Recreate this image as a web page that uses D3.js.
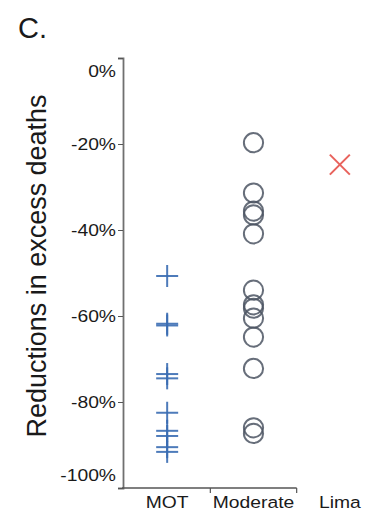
<!DOCTYPE html>
<html>
<head>
<meta charset="utf-8">
<script src="https://cdn.jsdelivr.net/npm/d3@7"></script>
<style>
  body { margin: 0; background: #fff; }
  svg text { font-family: "Liberation Sans", Arial, sans-serif; fill: #1a1a1a; }
</style>
</head>
<body>
<div class="chart"></div>
<script>
var categories = ["MOT", "Moderate", "Lima"];
var yTicks = [0, -20, -40, -60, -80, -100];
var motValues = [-50.7, -61.8, -62.2, -73.5, -74.5, -82.5, -86.7, -87.9, -90.5, -91.6];
var moderateValues = [-19.7, -31.4, -35.6, -36.5, -40.9, -54.0, -57.4, -58.2, -60.5, -64.9, -72.2, -86.0, -87.3];
var limaValues = [-24.8];

var svgWidth = 387, svgHeight = 512;

var svg = d3.select(".chart")
  .append("svg")
  .attr("width", svgWidth)
  .attr("height", svgHeight);

var xScale = d3.scaleBand().domain(categories).range([124, 383]);
var yScale = d3.scaleLinear().domain([-100, 0]).range([488, 58]);

// title
svg.append("text")
  .attr("x", 18)
  .attr("y", 38)
  .style("font-size", "29px")
  .text("C.");

// y axis
var leftAxis = d3.axisLeft(yScale)
  .tickValues(yTicks)
  .tickSize(5)
  .tickFormat(function(d) { return d + "%"; });

var yAxisG = svg.append("g")
  .attr("transform", "translate(123,0)")
  .call(leftAxis);

yAxisG.select(".domain").attr("stroke", "#707070").attr("stroke-width", 1.8);
yAxisG.selectAll(".tick line").attr("stroke", "#555");
yAxisG.selectAll(".tick text")
  .style("font-size", "16.5px")
  .attr("fill", "#1a1a1a")
  .attr("x", -7 / 1.17)
  .attr("transform", "scale(1.17,1)")
  .attr("dy", function(d) {
    if (d === 0) return "1.1em";
    if (d === -100) return "-0.45em";
    return "0.35em";
  });

// x axis (line only runs over first two bands)
svg.append("line")
  .attr("x1", 122).attr("x2", xScale("Lima"))
  .attr("y1", 488).attr("y2", 488)
  .attr("stroke", "#555").attr("stroke-width", 1.6);

svg.selectAll(".xtick")
  .data(["Moderate", "Lima"])
  .enter()
  .append("line")
  .attr("class", "xtick")
  .attr("x1", function(d) { return xScale(d); })
  .attr("x2", function(d) { return xScale(d); })
  .attr("y1", 488).attr("y2", 493)
  .attr("stroke", "#555").attr("stroke-width", 1.2);

svg.selectAll(".xlabel")
  .data(categories)
  .enter()
  .append("text")
  .attr("class", "xlabel")
  .attr("text-anchor", "middle")
  .attr("transform", function(d) {
    return "translate(" + (xScale(d) + xScale.bandwidth() / 2) + ",508) scale(1.17,1)";
  })
  .style("font-size", "16.5px")
  .text(function(d) { return d; });

// y label
svg.append("text")
  .attr("transform", "translate(46,266) rotate(-90)")
  .attr("text-anchor", "middle")
  .attr("textLength", 343)
  .attr("lengthAdjust", "spacingAndGlyphs")
  .style("font-size", "27px")
  .text("Reductions in excess deaths");

// MOT: plus markers
var plus = svg.append("g").attr("class", "mot");
var mx = xScale("MOT") + xScale.bandwidth() / 2;
motValues.forEach(function(v) {
  var cy = yScale(v);
  plus.append("line")
    .attr("x1", mx - 11).attr("x2", mx + 11)
    .attr("y1", cy).attr("y2", cy);
  plus.append("line")
    .attr("x1", mx).attr("x2", mx)
    .attr("y1", cy - 11).attr("y2", cy + 11);
});
plus.selectAll("line")
  .attr("stroke", "#3a6db3")
  .attr("stroke-width", 2)
  .attr("opacity", 0.9);

// Moderate: open circles
svg.append("g")
  .selectAll("circle")
  .data(moderateValues)
  .enter()
  .append("circle")
  .attr("cx", xScale("Moderate") + xScale.bandwidth() / 2)
  .attr("cy", function(d) { return yScale(d); })
  .attr("r", 9.6)
  .attr("fill", "none")
  .attr("stroke", "#4c5563")
  .attr("stroke-width", 2)
  .attr("opacity", 0.85);

// Lima: x marker
var lx = xScale("Lima") + xScale.bandwidth() / 2;
var limaG = svg.append("g");
limaValues.forEach(function(v) {
  var cy = yScale(v);
  limaG.append("line")
    .attr("x1", lx - 10).attr("x2", lx + 10)
    .attr("y1", cy - 10).attr("y2", cy + 10);
  limaG.append("line")
    .attr("x1", lx - 10).attr("x2", lx + 10)
    .attr("y1", cy + 10).attr("y2", cy - 10);
});
limaG.selectAll("line")
  .attr("stroke", "#e8625c")
  .attr("stroke-width", 2);
</script>
</body>
</html>
